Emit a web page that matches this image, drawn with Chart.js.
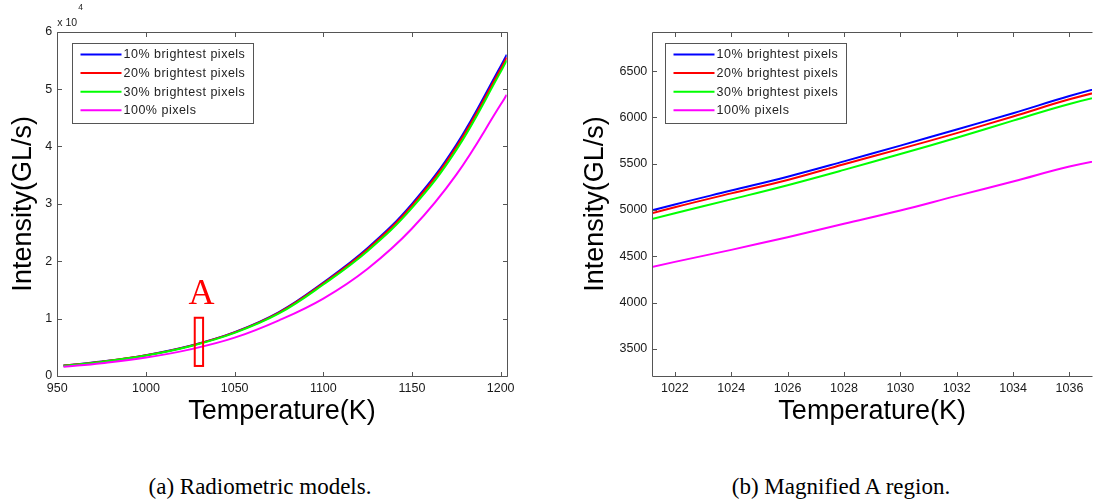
<!DOCTYPE html>
<html>
<head>
<meta charset="utf-8">
<script src="https://cdn.jsdelivr.net/npm/chart.js@4.4.1/dist/chart.umd.min.js"></script>
<style>
  body { margin: 0; background: #fff; width: 1093px; height: 499px; position: relative; overflow: hidden; }
  canvas { position: absolute; top: 0; }
  #chartA { left: 0; }
  #chartB { left: 560px; }
  .cap { position: absolute; top: 474px; line-height: 26px; font-family: "Liberation Serif", "Times New Roman", serif;
         font-size: 23px; color: #000; white-space: nowrap; transform: translateX(-50%); }
</style>
</head>
<body>
<canvas id="chartA" width="540" height="440"></canvas>
<canvas id="chartB" width="533" height="440"></canvas>
<div class="cap" style="left:260px">(a) Radiometric models.</div>
<div class="cap" style="left:841px">(b) Magnified A region.</div>
<script>
// series names / colours (MATLAB default-ish)
const seriesLabels = ['10% brightest pixels', '20% brightest pixels', '30% brightest pixels', '100% pixels'];
const seriesColors = ['#0000ff', '#ff0000', '#00ff00', '#ff00ff'];

// (a) full temperature range
const tempA = [953.5, 975, 1000, 1025, 1050, 1075, 1100, 1125, 1150, 1175, 1200, 1203.4];
const p10A  = [1830, 2520, 3640, 5280, 7650, 11150, 16300, 22300, 30000, 40300, 54000, 56000];
const p20A  = [1810, 2500, 3610, 5250, 7600, 11050, 16150, 22100, 29700, 39900, 53500, 55500];
const p30A  = [1790, 2460, 3560, 5190, 7520, 10900, 15950, 21800, 29300, 39400, 53000, 55000];
const p100A = [1600, 2230, 3210, 4640, 6680, 9700, 13500, 18700, 25700, 35100, 47300, 49000];
const xTicksA = [950, 1000, 1050, 1100, 1150, 1200];
const yTicksA = [0, 10000, 20000, 30000, 40000, 50000, 60000];

// (b) magnified region A (ends run just past the clipped axis edges)
const tempB = [1020, 1022, 1024, 1026, 1028, 1030, 1032, 1034, 1036, 1038];
const p10B  = [4900, 5060, 5210, 5360, 5525, 5695, 5870, 6045, 6230, 6395];
const p20B  = [4870, 5030, 5180, 5325, 5495, 5660, 5830, 6010, 6195, 6350];
const p30B  = [4810, 4965, 5115, 5268, 5433, 5605, 5780, 5965, 6145, 6290];
const p100B = [4305, 4440, 4570, 4707, 4851, 4994, 5153, 5307, 5469, 5590];
const xTicksB = [1022, 1024, 1026, 1028, 1030, 1032, 1034, 1036];
const yTicksB = [3500, 4000, 4500, 5000, 5500, 6000, 6500];

// the "A" marker on plot (a), in data units
const boxAx = [1027.5, 1032.2];
const boxAy = [1750, 10150];
const markA = [1031.3, 12540];

const SANS = '"Liberation Sans", Arial, sans-serif';

function pts(xs, ys) { return xs.map((x, i) => ({ x: x, y: ys[i] })); }

function datasets(xs, seriesList) {
  return seriesList.map((ys, i) => ({
    label: seriesLabels[i],
    data: pts(xs, ys),
    borderColor: seriesColors[i],
    backgroundColor: seriesColors[i],
    borderWidth: 2,
    pointRadius: 0,
    tension: 0.4,
    order: 4 - i
  }));
}

// box, inward ticks, boxed legend and extras, drawn MATLAB style
const matlabPlugin = {
  id: 'matlab',
  afterDraw(chart, args, o) {
    const ctx = chart.ctx;
    const a = chart.chartArea;
    const xs = chart.scales.x, ys = chart.scales.y;
    const L = Math.round(a.left) + 0.5, R = Math.round(a.right) + 0.5;
    const T = Math.round(a.top) + 0.5, B = Math.round(a.bottom) + 0.5;
    ctx.save();
    ctx.strokeStyle = '#555';
    ctx.lineWidth = 1;
    ctx.beginPath();
    ctx.moveTo(R, T); ctx.lineTo(L, T); ctx.lineTo(L, B); ctx.lineTo(R, B);
    if (!o.noRight) { ctx.lineTo(R, T); }
    // inward ticks
    xs.ticks.forEach(t => {
      const px = Math.round(xs.getPixelForValue(t.value)) + 0.5;
      ctx.moveTo(px, B); ctx.lineTo(px, B - 4.5);
      ctx.moveTo(px, T); ctx.lineTo(px, T + 4.5);
    });
    ys.ticks.forEach(t => {
      const py = Math.round(ys.getPixelForValue(t.value)) + 0.5;
      ctx.moveTo(L, py); ctx.lineTo(L + 4.5, py);
      if (!o.noRight) { ctx.moveTo(R, py); ctx.lineTo(R - 4.5, py); }
    });
    ctx.stroke();

    // legend
    const bx = Math.round(a.left + o.legendDx) + 0.5, by = Math.round(a.top + 11.6) + 0.5;
    ctx.fillStyle = '#fff';
    ctx.fillRect(bx, by, 181, 80);
    ctx.strokeStyle = '#555';
    ctx.strokeRect(bx, by, 181, 80);
    ctx.font = '12.5px ' + SANS;
    ctx.letterSpacing = '0.5px';
    ctx.textBaseline = 'middle';
    ctx.textAlign = 'left';
    chart.data.datasets.forEach((d, i) => {
      const ry = by + 11 + i * 18.6;
      ctx.strokeStyle = d.borderColor;
      ctx.lineWidth = 2;
      ctx.beginPath();
      ctx.moveTo(bx + 8, ry); ctx.lineTo(bx + 49, ry);
      ctx.stroke();
      ctx.fillStyle = '#222';
      ctx.fillText(d.label, bx + 51, ry + 0.5);
    });
    ctx.letterSpacing = '0px';

    if (o.exponent) {
      ctx.fillStyle = '#222';
      ctx.textBaseline = 'alphabetic';
      ctx.font = '10.5px ' + SANS;
      ctx.fillText('x 10', a.left, a.top - 5.5);
      const w = ctx.measureText('x 10').width;
      ctx.font = '8.5px ' + SANS;
      ctx.fillText('4', a.left + w + 1, a.top - 22);
    }
    if (o.markA) {
      const x0 = xs.getPixelForValue(boxAx[0]), x1 = xs.getPixelForValue(boxAx[1]);
      const y0 = ys.getPixelForValue(boxAy[1]), y1 = ys.getPixelForValue(boxAy[0]);
      ctx.strokeStyle = '#ff0000';
      ctx.lineWidth = 2;
      ctx.strokeRect(x0, y0, x1 - x0, y1 - y0);
      ctx.fillStyle = '#ff0000';
      ctx.font = '36px "Liberation Serif", "Times New Roman", serif';
      ctx.textAlign = 'center';
      ctx.textBaseline = 'alphabetic';
      ctx.fillText('A', xs.getPixelForValue(markA[0]), ys.getPixelForValue(markA[1]));
    }
    ctx.restore();
  }
};

function axisCfg(min, max, tickList, fitFn, title, titlePad, cb) {
  return {
    type: 'linear',
    min: min,
    max: max,
    afterBuildTicks: s => { s.ticks = tickList.map(v => ({ value: v })); },
    afterFit: fitFn,
    grid: { display: false, drawTicks: false },
    border: { display: false },
    ticks: {
      autoSkip: false, maxRotation: 0, padding: 5, color: '#1a1a1a',
      font: { family: SANS, size: 12.5 },
      callback: cb || (v => v)
    },
    title: {
      display: true, text: title, color: '#000',
      font: { family: SANS, size: 27 }, padding: titlePad
    }
  };
}

new Chart(document.getElementById('chartA'), {
  type: 'line',
  data: { datasets: datasets(tempA, [p10A, p20A, p30A, p100A]) },
  options: {
    responsive: false,
    animation: false,
    layout: { padding: { left: 0, top: 31.7, right: 33.3, bottom: 0 } },
    plugins: {
      legend: { display: false },
      tooltip: { enabled: false },
      matlab: { legendDx: 15, exponent: true, markA: true }
    },
    scales: {
      x: axisCfg(950, 1203.4, xTicksA, s => { s.height = 64; }, 'Temperature(K)', { top: 0, bottom: 12 }),
      y: axisCfg(0, 60000, yTicksA, s => { s.width = 57.3; }, 'Intensity(GL/s)', { top: 7.5, bottom: 0 }, v => v / 10000)
    }
  },
  plugins: [matlabPlugin]
});

new Chart(document.getElementById('chartB'), {
  type: 'line',
  data: { datasets: datasets(tempB, [p10B, p20B, p30B, p100B]) },
  options: {
    responsive: false,
    animation: false,
    layout: { padding: { left: 0, top: 31.7, right: 1, bottom: 0 } },
    plugins: {
      legend: { display: false },
      tooltip: { enabled: false },
      matlab: { legendDx: 12.7, noRight: true }
    },
    scales: {
      x: axisCfg(1021.2, 1036.8, xTicksB, s => { s.height = 63.7; }, 'Temperature(K)', { top: 0, bottom: 12 }),
      y: axisCfg(3205, 6925, yTicksB, s => { s.width = 92.3; }, 'Intensity(GL/s)', { top: 19.5, bottom: 0 })
    }
  },
  plugins: [matlabPlugin]
});
</script>
</body>
</html>
